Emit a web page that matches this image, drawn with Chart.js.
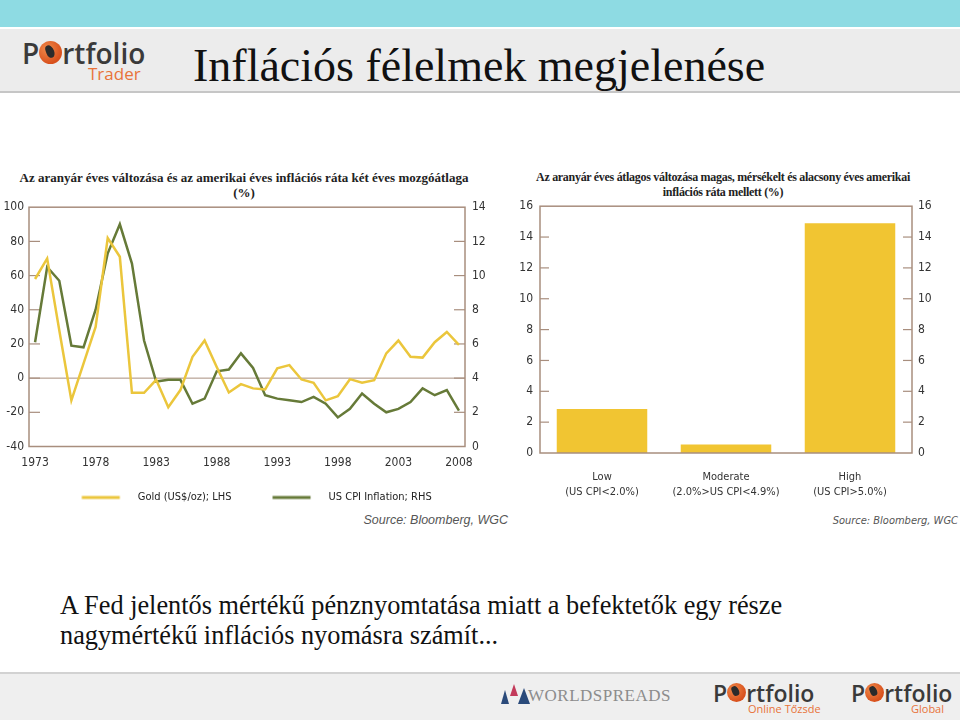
<!DOCTYPE html>
<html>
<head>
<meta charset="utf-8">
<script src="https://cdn.jsdelivr.net/npm/chart.js@4.4.1/dist/chart.umd.min.js"></script>
<style>
  body { margin: 0; width: 960px; height: 720px; position: relative; overflow: hidden; background: #fff; font-family: "Liberation Sans", Arial, sans-serif; }
  .abs { position: absolute; }
  #topband { left: 0; top: 0; width: 960px; height: 27px; background: #8edbe3; }
  #head { left: 0; top: 29px; width: 960px; height: 62px; background: #ececec; border-bottom: 2px solid #c6c6c6; }
  #title { left: 193px; top: 43px; font: 46px/46px "Liberation Serif", serif; color: #111; white-space: nowrap; }
  .logo { font-family: "Open Sans", sans-serif; font-weight: 600; color: #3a3a3a; white-space: nowrap; }
  .globe { display: inline-block; border-radius: 50%; background: radial-gradient(circle at 35% 35%, #f08a4a, #d8501c 70%); position: relative; vertical-align: baseline; }
  .globe::after { content: ""; position: absolute; left: 28%; top: 18%; width: 35%; height: 55%; background: #2b2b2b; border-radius: 40% 60% 50% 50%; transform: rotate(-20deg); }
  .sub { color: #e8733a; font-family: "Open Sans", sans-serif; white-space: nowrap; }
  .ctitle { font: bold 13px/15px "Liberation Serif", serif; color: #222; text-align: center; white-space: nowrap; }
  .source { font: italic 12.5px "Liberation Sans", Arial, sans-serif; color: #555; white-space: nowrap; }
  #note { left: 60px; top: 591px; font: 26.3px/30px "Liberation Serif", serif; color: #111; white-space: nowrap; }
  #foot { left: 0; top: 672px; width: 960px; height: 48px; background: #efefef; border-top: 2px solid #d2d2d2; }
  #ws { left: 528px; top: 686px; font: 17px "Liberation Serif", serif; color: #8c8c8c; letter-spacing: 0.5px; }
  canvas { position: absolute; }
</style>
</head>
<body>
<div id="topband" class="abs"></div>
<div id="head" class="abs"></div>
<div class="abs logo" style="left:22px;top:34px;font-size:28px;">P<span class="globe" style="width:23px;height:23px;"></span>rtfolio</div>
<div class="abs sub" style="left:88px;top:62px;font-size:17px;">Trader</div>
<div id="title" class="abs">Inflációs félelmek megjelenése</div>

<div class="abs ctitle" style="left:0;top:170px;width:488px;">Az aranyár éves változása és az amerikai éves inflációs ráta két éves mozgóátlaga<br>(%)</div>
<div class="abs ctitle" style="left:523px;top:170px;width:400px;font-size:12px;letter-spacing:-0.3px;">Az aranyár éves átlagos változása magas, mérsékelt és alacsony éves amerikai<br>inflációs ráta mellett (%)</div>

<canvas id="lineChart" width="515" height="320" style="left:0;top:193px;"></canvas>
<canvas id="barChart" width="445" height="316" style="left:515px;top:192px;"></canvas>

<div class="abs source" style="right:452px;top:513px;">Source: Bloomberg, WGC</div>
<div class="abs source" style="right:2px;top:514px;font-family:'Liberation Sans Narrow','DejaVu Sans Condensed',sans-serif;font-size:11px;">Source: Bloomberg, WGC</div>

<div id="note" class="abs">A Fed jelentős mértékű pénznyomtatása miatt a befektetők egy része<br>nagymértékű inflációs nyomásra számít...</div>

<div id="foot" class="abs"></div>
<div class="abs" style="left:501px;top:690px;width:0;height:0;border-left:4px solid transparent;border-right:4px solid transparent;border-bottom:14px solid #2a4a7a;"></div>
<div class="abs" style="left:510px;top:684px;width:0;height:0;border-left:4px solid transparent;border-right:4px solid transparent;border-bottom:12px solid #c23a5a;"></div>
<div class="abs" style="left:518px;top:688px;width:0;height:0;border-left:6px solid transparent;border-right:6px solid transparent;border-bottom:16px solid #2a4a7a;"></div>
<div id="ws" class="abs">WORLDSPREADS</div>
<div class="abs logo" style="left:713px;top:677px;font-size:23px;">P<span class="globe" style="width:19px;height:19px;"></span>rtfolio</div>
<div class="abs sub" style="left:748px;top:701px;font-size:11px;">Online Tőzsde</div>
<div class="abs logo" style="left:851px;top:677px;font-size:23px;">P<span class="globe" style="width:19px;height:19px;"></span>rtfolio</div>
<div class="abs sub" style="left:911px;top:701px;font-size:11px;">Global</div>

<script>
// left chart: years, gold yearly change (LHS, %), US CPI 2y moving average (RHS, %)
const years = ['1973','1974','1975','1976','1977','1978','1979','1980','1981','1982',
  '1983','1984','1985','1986','1987','1988','1989','1990','1991','1992',
  '1993','1994','1995','1996','1997','1998','1999','2000','2001','2002',
  '2003','2004','2005','2006','2007','2008'];
const xTickLabels = ['1973','1978','1983','1988','1993','1998','2003','2008'];
const goldChange = [58, 70, 28, -13, 8.5, 30, 82, 71, -8.6, -8.6,
  -1, -17, -7, 12.5, 22, 6.5, -8.4, -3.5, -6, -6.6,
  5.7, 7.6, -0.8, -2.7, -13, -10.6, -0.6, -2.7, -1.2, 14.5,
  22, 12.5, 12, 21, 27, 19.5];
const usCpi = [6.1, 10.5, 9.7, 5.9, 5.8, 8.0, 11.3, 13.0, 10.7, 6.2,
  3.8, 3.9, 3.9, 2.5, 2.8, 4.4, 4.5, 5.45, 4.6, 3.0,
  2.8, 2.7, 2.6, 2.9, 2.5, 1.7, 2.2, 3.1, 2.5, 2.0,
  2.2, 2.6, 3.4, 3.0, 3.3, 2.1];

// right chart: average gold change under low / moderate / high inflation
const barCategories = [['Low', '(US CPI<2.0%)'], ['Moderate', '(2.0%>US CPI<4.9%)'], ['High', '(US CPI>5.0%)']];
const barValues = [2.85, 0.55, 14.9];

const GOLD = '#ebc63c';
const GREEN = '#667a38';
const BAR = '#f1c532';
const FRAME = '#a88e7e';
const NARROW = "'Liberation Sans Narrow', 'DejaVu Sans Condensed', 'Liberation Sans', sans-serif";

// frame round the plot, short inward ticks, optional zero line
const framePlugin = {
  id: 'frame',
  draw(chart, opts) {
    const { ctx, chartArea: a } = chart;
    ctx.save();
    ctx.strokeStyle = FRAME;
    ctx.lineWidth = 1.5;
    ctx.strokeRect(a.left, a.top, a.right - a.left, a.bottom - a.top);
    ctx.lineWidth = 1.2;
    Object.values(chart.scales).forEach(s => {
      if (s.axis !== 'y') return;
      const left = s.position === 'left';
      s.ticks.forEach(t => {
        if (t.value <= s.min || t.value >= s.max) return;
        const py = s.getPixelForValue(t.value);
        const x0 = left ? a.left : a.right;
        ctx.beginPath();
        ctx.moveTo(x0, py);
        ctx.lineTo(left ? x0 + opts.tick : x0 - opts.tick, py);
        ctx.stroke();
      });
    });
    if (opts.zero) {
      const py = chart.scales.y.getPixelForValue(0);
      ctx.lineWidth = 1;
      ctx.beginPath();
      ctx.moveTo(a.left, py);
      ctx.lineTo(a.right, py);
      ctx.stroke();
    }
    ctx.restore();
  },
  beforeDatasetsDraw(chart, args, opts) { if (!opts.onTop) this.draw(chart, opts); },
  afterDatasetsDraw(chart, args, opts) { if (opts.onTop) this.draw(chart, opts); }
};

// legend sample: a short line with some room before it (spaces the items apart)
function legendLine(color) {
  const c = document.createElement('canvas');
  c.width = 70; c.height = 6;
  const g = c.getContext('2d');
  g.strokeStyle = color; g.lineWidth = 3;
  g.beginPath(); g.moveTo(19.5, 3); g.lineTo(57.5, 3); g.stroke();
  return c;
}

const tickFont = { family: NARROW, size: 12 };

new Chart(document.getElementById('lineChart'), {
  type: 'line',
  data: {
    labels: years,
    datasets: [{
      label: 'Gold (US$/oz); LHS',
      data: goldChange,
      yAxisID: 'y',
      borderColor: GOLD,
      borderWidth: 2.5,
      pointRadius: 0,
      pointStyle: legendLine(GOLD),
      tension: 0
    }, {
      label: 'US CPI Inflation; RHS',
      data: usCpi,
      yAxisID: 'y1',
      borderColor: GREEN,
      borderWidth: 2.5,
      pointRadius: 0,
      pointStyle: legendLine(GREEN),
      tension: 0
    }]
  },
  options: {
    responsive: false,
    animation: false,
    layout: { padding: 0 },
    plugins: {
      tooltip: { enabled: false },
      frame: { tick: 11, zero: true, onTop: false },
      legend: {
        position: 'bottom',
        fullSize: false,
        labels: { usePointStyle: true, pointStyleWidth: 70, padding: 21.5, color: '#222', font: { family: NARROW, size: 11 } }
      }
    },
    scales: {
      x: {
        type: 'category',
        offset: true,
        grid: { display: false, drawTicks: false },
        border: { display: false },
        ticks: {
          autoSkip: false, maxRotation: 0, padding: 9, color: '#333', font: tickFont,
          callback: (v, i) => xTickLabels.includes(years[i]) ? years[i] : ''
        },
        afterFit: s => { s.height = 24; }
      },
      y: {
        position: 'left',
        min: -40, max: 100,
        grid: { display: false, drawTicks: false },
        border: { display: false },
        ticks: { stepSize: 20, padding: 5, color: '#333', font: tickFont },
        afterFit: s => { s.width = 29; }
      },
      y1: {
        position: 'right',
        min: 0, max: 14,
        grid: { display: false, drawTicks: false },
        border: { display: false },
        ticks: { stepSize: 2, padding: 7, color: '#333', font: tickFont },
        afterFit: s => { s.width = 50; }
      }
    }
  },
  plugins: [framePlugin]
});

new Chart(document.getElementById('barChart'), {
  type: 'bar',
  data: {
    labels: barCategories,
    datasets: [{
      label: 'Gold',
      data: barValues,
      backgroundColor: BAR,
      barPercentage: 0.73,
      categoryPercentage: 1
    }]
  },
  options: {
    responsive: false,
    animation: false,
    layout: { padding: 0 },
    plugins: {
      legend: { display: false },
      tooltip: { enabled: false },
      frame: { tick: 9, zero: false, onTop: true }
    },
    scales: {
      x: {
        grid: { display: false, drawTicks: false },
        border: { display: false },
        ticks: { autoSkip: false, maxRotation: 0, padding: 17, color: '#333', font: { family: NARROW, size: 11, lineHeight: 1.36 } },
        afterFit: s => { s.height = 55; }
      },
      y: {
        position: 'left',
        min: 0, max: 16,
        grid: { display: false, drawTicks: false },
        border: { display: false },
        ticks: { stepSize: 2, padding: 7, color: '#333', font: tickFont },
        afterFit: s => { s.width = 25; }
      },
      y1: {
        position: 'right',
        min: 0, max: 16,
        grid: { display: false, drawTicks: false },
        border: { display: false },
        ticks: { stepSize: 2, padding: 6, color: '#333', font: tickFont },
        afterFit: s => { s.width = 48; }
      }
    }
  },
  plugins: [framePlugin]
});
</script>
</body>
</html>
